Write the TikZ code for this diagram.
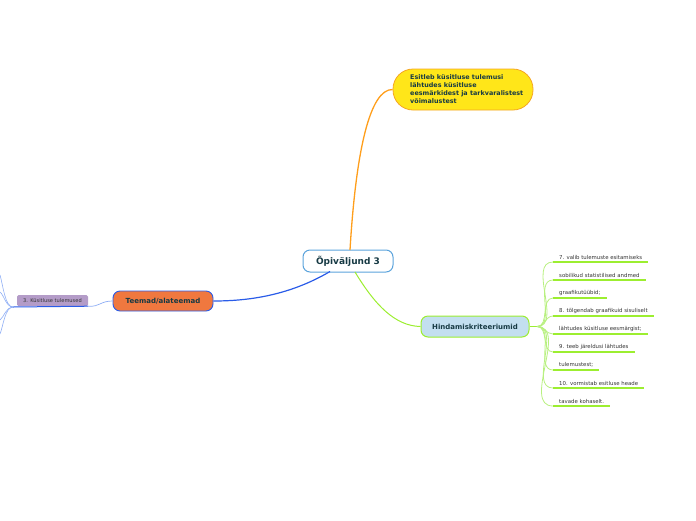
\documentclass[tikz,border=0pt]{standalone}
\usepackage{fontspec}
\setmainfont{DejaVu Sans}
\definecolor{cblue}{HTML}{2A5CE8}
\definecolor{cborder}{HTML}{5BA3DC}
\definecolor{corange}{HTML}{FF9E1B}
\definecolor{cyellow}{HTML}{FFE619}
\definecolor{cyborder}{HTML}{F5A623}
\definecolor{cteem}{HTML}{F0783F}
\definecolor{cpurple}{HTML}{B49CC8}
\definecolor{chind}{HTML}{C3DFF0}
\definecolor{cgreen}{HTML}{9CEE30}
\definecolor{cgline}{HTML}{B8F080}
\definecolor{ctext}{HTML}{173A44}
\definecolor{cleaf}{HTML}{333333}
\definecolor{clight}{HTML}{8FAEF5}
\tikzset{
  central/.style={draw=cborder, line width=1pt, fill=white, rounded corners=7pt, minimum width=90pt, minimum height=22pt, font=\fontsize{9}{10}\selectfont\bfseries, text=ctext},
  ybox/.style={draw=cyborder, line width=0.8pt, fill=cyellow, rounded corners=20pt, minimum width=140pt, minimum height=41pt},
  ytext/.style={anchor=north west, inner sep=0pt, font=\fontsize{6.4}{7.8}\selectfont\bfseries, text=ctext, align=left},
  teem/.style={draw=cblue, line width=0.9pt, fill=cteem, rounded corners=7pt, minimum width=100pt, minimum height=20pt, font=\fontsize{7}{8}\selectfont\bfseries, text=ctext},
  purp/.style={fill=cpurple, rounded corners=1.5pt, minimum width=71pt, minimum height=11pt, font=\fontsize{5.1}{6}\selectfont, text=cleaf, inner sep=1pt},
  hind/.style={draw=cgreen, line width=1pt, fill=chind, rounded corners=7pt, minimum width=108pt, minimum height=21pt, font=\fontsize{7}{8}\selectfont\bfseries, text=ctext},
  leaf/.style={anchor=south west, inner xsep=6pt, inner ysep=2.5pt, font=\fontsize{5.4}{6}\selectfont, text=cleaf},
  uline/.style={draw=cgreen, line width=1.6pt},
  gconn/.style={draw=cgline, line width=0.8pt},
}
\begin{document}
\begin{tikzpicture}[x=1pt,y=-1pt]
\useasboundingbox (0,0) rectangle (696,520);
\node[central] (c) at (348,261) {Õpiväljund 3};
\node[ybox] (y) at (463,89.5) {};
\node[ytext] (yt) at (410,74.5) {Esitleb küsitluse tulemusi\\lähtudes küsitluse\\eesmärkidest ja tarkvaralistest\\võimalustest};
\node[teem] (t) at (163,301) {Teemad/alateemad};
\node[purp] (p) at (52.5,300.5) {3. Küsitluse tulemused};
\node[hind] (h) at (475,326.5) {Hindamiskriteeriumid};
% connectors from central
\draw[corange, line width=1.3pt] (350,250) .. controls (356,150) and (370,89) .. (y.west);
\draw[cblue, line width=1.2pt] (330,271.5) .. controls (290,295) and (250,301) .. (t.east);
\draw[cgreen, line width=1pt] (355,272) .. controls (375,305) and (395,326) .. (h.west);
% left branch
\coordinate (hub) at (13,307);
\draw[cblue, line width=1pt] (hub) -- (p.south east);
\draw[clight, line width=0.7pt] (p.south east) .. controls (100,307) and (100,301) .. (t.west);
\coordinate (e1) at (0,275);
\coordinate (e2) at (0,292);
\coordinate (e3) at (0,320);
\coordinate (e4) at (0,334);
\draw[clight, line width=0.6pt] (hub) .. controls (5,307) and (3,285) .. (e1);
\draw[clight, line width=0.6pt] (hub) .. controls (6,307) and (4,295) .. (e2);
\draw[clight, line width=0.6pt] (hub) .. controls (6,307) and (4,317) .. (e3);
\draw[clight, line width=0.6pt] (hub) .. controls (5,307) and (3,327) .. (e4);
% right leaves
\coordinate (rh) at (537,326.5);
\draw[uline] (h.east) -- (rh);
\node[leaf] (l1) at (553,262) {7. valib tulemuste esitamiseks};
\node[leaf] (l2) at (553,280) {sobilikud statistilised andmed};
\node[leaf] (l3) at (553,298) {graafikutüübid;};
\node[leaf] (l4) at (553,316) {8. tõlgendab graafikuid sisuliselt};
\node[leaf] (l5) at (553,334) {lähtudes küsitluse eesmärgist;};
\node[leaf] (l6) at (553,352) {9. teeb järeldusi lähtudes};
\node[leaf] (l7) at (553,370) {tulemustest;};
\node[leaf] (l8) at (553,388) {10. vormistab esitluse heade};
\node[leaf] (l9) at (553,406) {tavade kohaselt.};
\foreach \n in {l1,l2,l3,l4,l5,l6,l7,l8,l9}{
  \draw[uline] (\n.south west) -- (\n.south east);
  \draw[gconn] (rh) to[out=0,in=180,looseness=1] (\n.south west);
}
\end{tikzpicture}
\end{document}
